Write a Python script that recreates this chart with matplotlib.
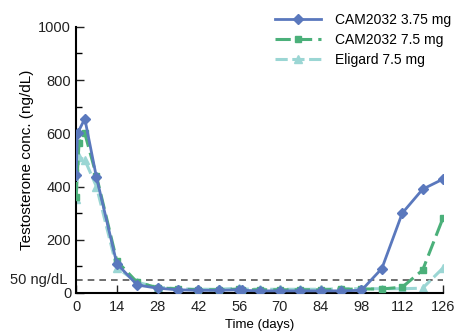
import matplotlib
matplotlib.use("Agg")
import matplotlib.pyplot as plt
from matplotlib.ticker import MultipleLocator

plt.rcParams['font.family'] = ['Liberation Sans', 'DejaVu Sans']

# data
days_a = [0, 0.5, 3, 7, 14, 21, 28, 35, 42, 49, 56, 57, 63, 70, 77, 84, 91, 98, 105, 112, 119, 126]
cam_375 = [445, 600, 655, 435, 110, 30, 18, 12, 10, 10, 12, 10, 8, 8, 8, 8, 8, 10, 92, 300, 390, 428]

days_b = [0, 1, 3, 7, 14, 21, 28, 35, 42, 49, 56, 57, 63, 70, 77, 84, 91, 98, 105, 112, 119, 126]
cam_75 = [360, 562, 600, 440, 120, 40, 20, 15, 12, 12, 15, 12, 12, 12, 12, 12, 14, 15, 15, 22, 86, 282]

days_c = [0, 1, 3, 7, 14, 21, 28, 35, 42, 49, 56, 57, 63, 70, 77, 84, 91, 98, 105, 112, 119, 126]
eligard = [355, 510, 500, 400, 95, 40, 22, 16, 14, 14, 18, 15, 14, 14, 14, 14, 16, 16, 16, 16, 18, 94]

xticks = [0, 14, 28, 42, 56, 70, 84, 98, 112, 126]
yticks = [0, 200, 400, 600, 800, 1000]

blue = '#5a78bd'
green = '#4bb07a'
teal = '#9bd6d4'

fig = plt.figure(figsize=(4.61, 3.36), dpi=100)
ax = fig.add_axes([0.165, 0.128, 0.796, 0.792])

ax.axhline(50, color='#555555', lw=1.2, ls=(0, (4, 3)), zorder=1)

ax.plot(days_c, eligard, color=teal, lw=2.2, ls=(0, (4, 1.5)), marker='^', ms=6,
        label='Eligard 7.5 mg', zorder=2)
ax.plot(days_b, cam_75, color=green, lw=2.2, ls=(0, (5, 2)), marker='s', ms=5,
        label='CAM2032 7.5 mg', zorder=3)
ax.plot(days_a, cam_375, color=blue, lw=2, marker='D', ms=5,
        label='CAM2032 3.75 mg', zorder=4)

ax.set_xlim(0, 126)
ax.set_ylim(0, 1000)
ax.set_xticks(xticks)
ax.set_yticks(yticks)
ax.yaxis.set_minor_locator(MultipleLocator(100))
ax.tick_params(direction='in', labelsize=10.5, length=6, width=1, colors='#222222')
ax.tick_params(which='minor', direction='in', length=4, width=1)
ax.tick_params(axis='x', pad=5)
for s in ['top', 'right']:
    ax.spines[s].set_visible(False)
for s in ['left', 'bottom']:
    ax.spines[s].set_linewidth(1.5)

ax.text(-0.025, 50, '50 ng/dL', transform=ax.get_yaxis_transform(),
        ha='right', va='center', fontsize=10.5, color='#222222')

ax.set_xlabel('Time (days)', fontsize=9.5, labelpad=4)
ax.set_ylabel('Testosterone conc. (ng/dL)', fontsize=11, labelpad=3)

h, l = ax.get_legend_handles_labels()
ax.legend(h[::-1], l[::-1], loc='upper right', bbox_to_anchor=(1.055, 1.1), frameon=False,
          fontsize=10, handlelength=3.3, labelspacing=0.45, handletextpad=1.0)

fig.savefig('out.png', dpi=100)
